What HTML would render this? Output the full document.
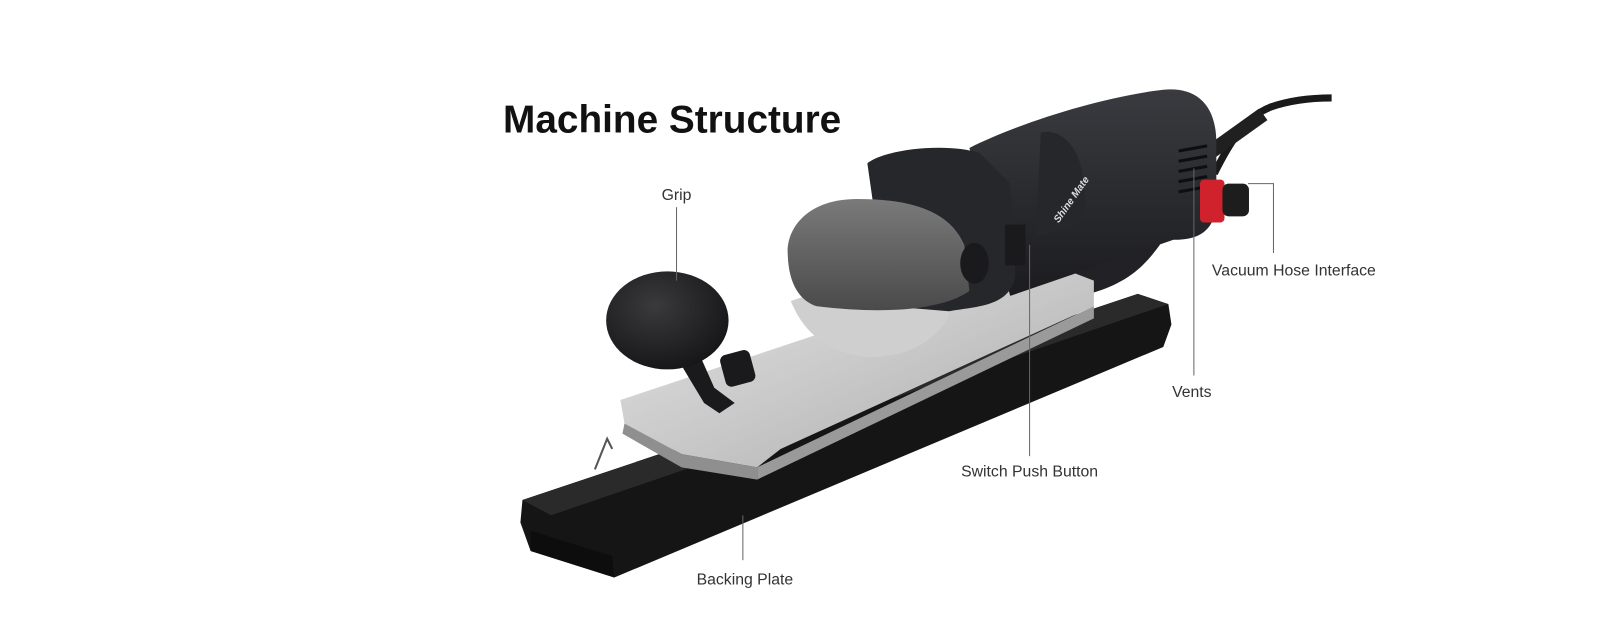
<!DOCTYPE html>
<html><head><style>
html,body{margin:0;padding:0;background:#fff;width:1600px;height:625px;overflow:hidden}
svg{display:block}
text{font-family:"Liberation Sans",sans-serif}
</style></head><body>
<svg width="1600" height="625" viewBox="0 0 1568 612.5" xmlns="http://www.w3.org/2000/svg">
<defs>
<linearGradient id="silver" x1="0" y1="0" x2="1" y2="1">
<stop offset="0" stop-color="#e4e4e4"/><stop offset="0.5" stop-color="#c9c9c9"/><stop offset="1" stop-color="#a9a9a9"/></linearGradient>
<linearGradient id="motor" x1="0" y1="0" x2="0" y2="1">
<stop offset="0" stop-color="#3a3b40"/><stop offset="0.5" stop-color="#2a2b2f"/><stop offset="1" stop-color="#1c1c1f"/></linearGradient>
<radialGradient id="knob" cx="0.4" cy="0.35" r="0.7">
<stop offset="0" stop-color="#3a3a3d"/><stop offset="1" stop-color="#151517"/></radialGradient>
<linearGradient id="dome" x1="0" y1="0" x2="0" y2="1">
<stop offset="0" stop-color="#7a7a7a"/><stop offset="1" stop-color="#4a4a4a"/></linearGradient>
</defs>

<path d="M1190 170 C1205 140 1220 115 1245 105 C1265 98 1285 96 1305 96" stroke="#1a1a1a" stroke-width="7" fill="none"/>
<path d="M1185 150 L1238 112" stroke="#202020" stroke-width="14" fill="none"/>

<polygon points="512,490 1115,288 1145,298 1148,318 1140,340 602,566 520,540 510,512" fill="#151515"/>
<polygon points="512,490 1115,288 1145,298 540,505" fill="#2a2a2a"/>
<polygon points="520,520 600,545 602,566 520,540" fill="#0d0d0d"/>

<path d="M1035 268 C1080 250 1100 245 1120 215 C1135 195 1150 190 1170 195 L1175 215 C1160 215 1150 220 1140 235 C1120 265 1100 280 1060 290 Z" fill="#222226"/>

<polygon points="608,392 1020,255 1072,275 1072,300 765,440 742,458 668,445 612,415" fill="url(#silver)"/>
<polygon points="612,415 668,445 742,458 742,470 668,458 610,425" fill="#8f8f8f"/>
<polygon points="742,458 1072,300 1072,312 742,470" fill="#9a9a9a"/>

<path d="M775 295 C785 320 805 345 850 350 C890 350 915 335 930 310 L930 290 L790 290 Z" fill="#cfcfcf"/>

<path d="M950 145 C1000 120 1080 95 1140 88 C1170 85 1192 100 1192 140 L1192 200 C1190 230 1170 235 1150 235 L990 290 Z" fill="url(#motor)"/>
<path d="M1020 130 C1040 125 1060 145 1062 180 L1065 215 C1050 225 1030 228 1015 232 Z" fill="#26272b"/>
<g stroke="#0e0e10" stroke-width="3">
<line x1="1155" y1="148" x2="1183" y2="143"/><line x1="1155" y1="158" x2="1183" y2="153"/>
<line x1="1155" y1="168" x2="1183" y2="163"/><line x1="1155" y1="178" x2="1183" y2="173"/>
<line x1="1155" y1="188" x2="1183" y2="183"/></g>
<text x="1025" y="215" font-size="10" fill="#ddd" font-style="italic" font-weight="bold" transform="rotate(-55 1035 205)">Shine Mate</text>

<path d="M850 160 C870 145 930 140 960 150 L990 180 L995 270 C990 300 960 300 930 305 L870 300 Z" fill="#26272b"/>
<path d="M772 250 C770 225 790 195 840 195 C890 195 930 205 945 240 L950 285 C930 300 880 310 800 300 C785 295 773 280 772 250 Z" fill="url(#dome)"/>
<ellipse cx="955" cy="258" rx="14" ry="20" fill="#1a1a1c"/>
<rect x="985" y="220" width="20" height="40" fill="#1a1a1c"/>

<rect x="1176" y="176" width="24" height="42" rx="4" fill="#d0222c"/>
<rect x="1198" y="180" width="26" height="32" rx="6" fill="#1d1d1d"/>

<path d="M680 335 L700 380 L720 395 L705 405 L690 395 L660 345 Z" fill="#1a1a1c"/>
<rect x="708" y="345" width="30" height="32" rx="6" fill="#1a1a1c" transform="rotate(-15 723 361)"/>
<ellipse cx="654" cy="314" rx="60" ry="48" fill="url(#knob)"/>

<path d="M583 460 L595 430 L600 440" stroke="#555" stroke-width="2" fill="none"/>

<g stroke="#666" stroke-width="1" fill="none">
<line x1="663" y1="203" x2="663" y2="275"/>
<line x1="728" y1="505" x2="728" y2="549"/>
<line x1="1009" y1="240" x2="1009" y2="447"/>
<line x1="1170" y1="165" x2="1170" y2="368"/>
<polyline points="1223,180 1248,180 1248,248"/>
</g>

<text x="493" y="130" font-size="38" font-weight="bold" fill="#111">Machine Structure</text>
<g font-size="15.5" fill="#333" text-anchor="middle">
<text x="663" y="196">Grip</text>
<text x="730" y="573">Backing Plate</text>
<text x="1009" y="467">Switch Push Button</text>
<text x="1168" y="389">Vents</text>
<text x="1268" y="270">Vacuum Hose Interface</text>
</g>
</svg>
</body></html>
